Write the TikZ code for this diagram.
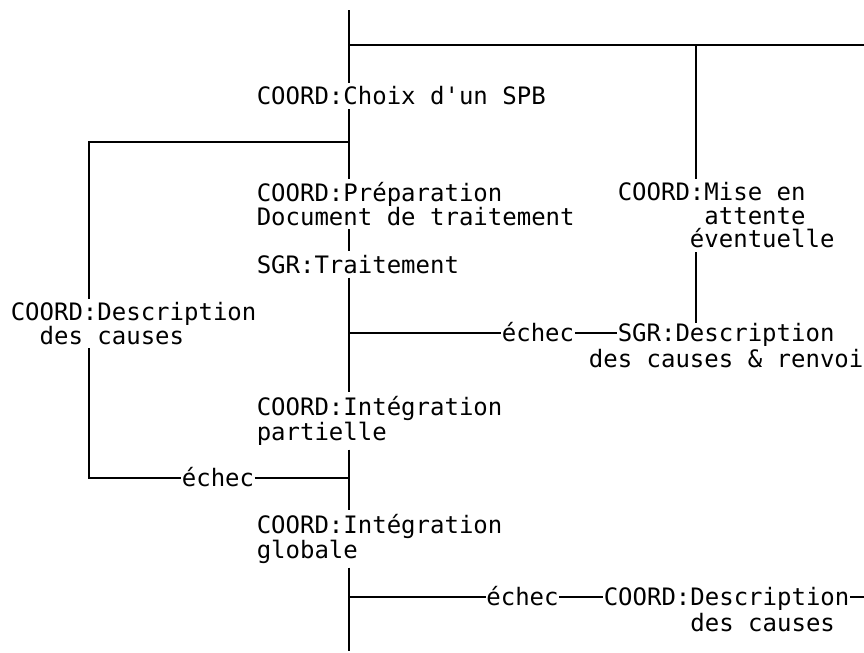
\documentclass[tikz,border=0pt]{standalone}
\usepackage{fontspec}
\newfontfamily\mono{DejaVu Sans Mono}
\usetikzlibrary{positioning}

\begin{document}
\begin{tikzpicture}[x=0.5pt,y=-0.5pt,line width=0.75pt,
  blk/.style={font=\mono\fontsize{12}{11.75}\selectfont,align=left,anchor=west,inner xsep=0pt,inner ysep=1.5pt},
  lbl/.style={font=\mono\fontsize{12}{12}\selectfont,inner sep=0pt,text height=8.8pt,text depth=0pt}]
  \useasboundingbox (0,0) rectangle (864,653);
  \coordinate (top) at (349,10);
  \coordinate (bot) at (349,651);
  \coordinate (fork) at (349,45);
  \coordinate (topend) at (864,45);
  \coordinate (miseTop) at (696,45);
  \coordinate (loopT) at (349,142);
  \coordinate (loopTL) at (89,142);
  \coordinate (loopBL) at (89,478);
  \coordinate (loopB) at (349,478);
  \coordinate (brA) at (349,333);
  \coordinate (brB) at (349,597);
  \coordinate (rend) at (864,597);
  \node[blk] (choix) at (256,96) {COORD:Choix d'un SPB};
  \node[blk] (prep) at (256,204) {COORD:Préparation\\Document de traitement};
  \node[blk] (trait) at (256,264.5) {SGR:Traitement};
  \node[blk] (integp) at (256,421) {COORD:Intégration\\partielle};
  \node[blk] (integg) at (256,539) {COORD:Intégration\\globale};
  \node[blk] (descL) at (10,323.5) {COORD:Description\\\phantom{de}des causes};
  \node[blk] (mise) at (617,215.5) {COORD:Mise en\\\phantom{COORD:}attente\\\phantom{COORD}éventuelle};
  \node[lbl] (e1) at (538,333) {échec};
  \node[lbl,anchor=west] (sgrdesc) at (617,333) {SGR:Description};
  \node[lbl,below=3.2pt of sgrdesc] (sgrcause) {des causes \& renvoi};
  \node[lbl] (e2) at (218,478) {échec};
  \node[lbl] (e3) at (522.5,597) {échec};
  \node[lbl,anchor=west] (desc3) at (603,597) {COORD:Description};
  \node[lbl,below right=3.2pt and 43.35pt of desc3.south west] (desc3b) {des causes};
  \draw (top) -- (top |- choix.north);
  \foreach \a/\b in {choix/prep,prep/trait,trait/integp,integp/integg}
    \draw (top |- \a.south) -- (top |- \b.north);
  \draw (top |- integg.south) -- (bot);
  \draw (fork) -- (topend);
  \draw (miseTop) -- (miseTop |- mise.north);
  \draw (miseTop |- mise.south) -- (miseTop |- sgrdesc.north);
  \draw (loopT) -- (loopTL) -- (loopTL |- descL.north);
  \draw (loopTL |- descL.south) -- (loopBL) -- (e2);
  \draw (e2) -- (loopB);
  \draw (brA) -- (e1) -- (sgrdesc);
  \draw (brB) -- (e3) -- (desc3) -- (rend);
\end{tikzpicture}
\end{document}
